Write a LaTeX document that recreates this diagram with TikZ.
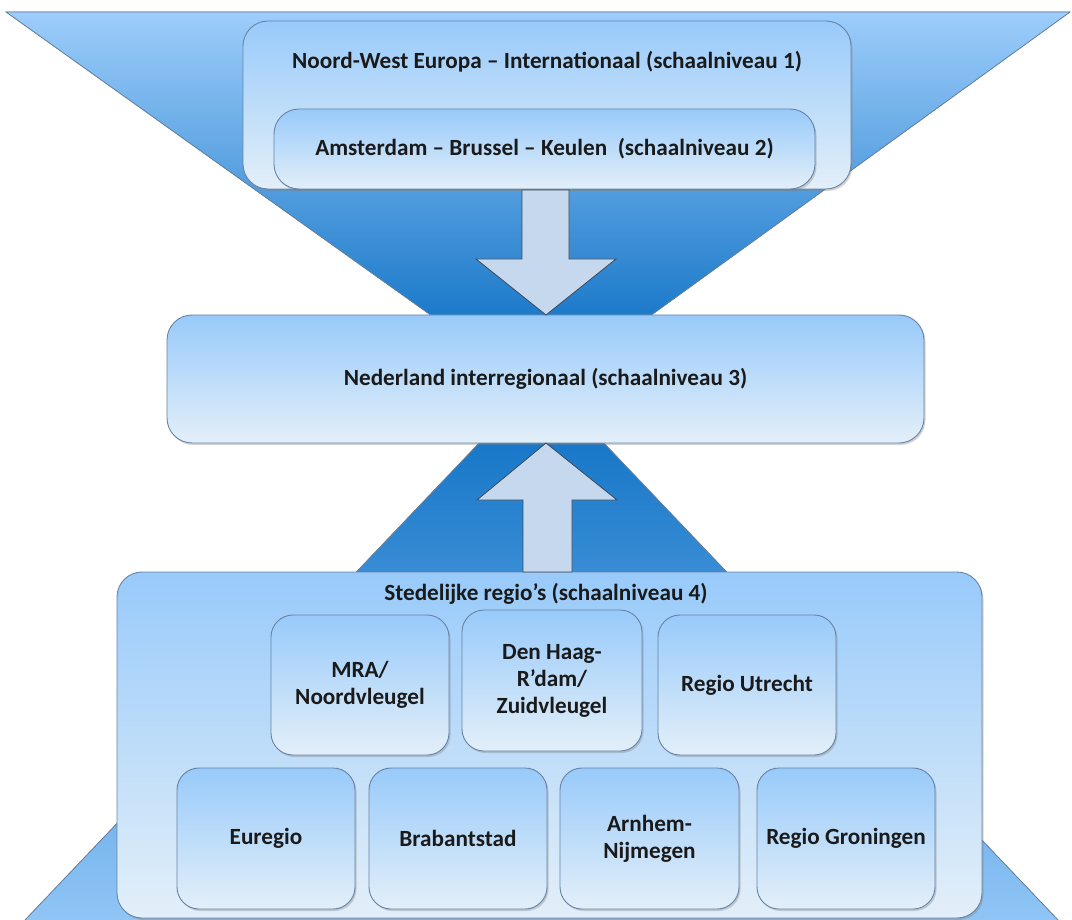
\documentclass[tikz,border=0pt]{standalone}
\usepackage{fontspec}
\setmainfont{Carlito}
\usetikzlibrary{shadows}
\definecolor{boxtop}{RGB}{152,202,250}
\definecolor{boxbot}{RGB}{227,239,249}
\definecolor{boxline}{RGB}{104,132,165}
\definecolor{tritop}{RGB}{157,205,251}
\definecolor{tribot}{RGB}{26,121,201}
\definecolor{pyrtop}{RGB}{23,119,200}
\definecolor{pyrbot}{RGB}{144,197,246}
\definecolor{arrowfill}{RGB}{197,216,238}
\definecolor{arrowline}{RGB}{60,72,88}
\definecolor{edgeline}{RGB}{105,128,155}
\definecolor{txt}{RGB}{26,26,26}
\begin{document}
\begin{tikzpicture}[x=1pt,y=-1pt,
  lbl/.style={font=\bfseries\fontsize{23.2}{27}\selectfont, text=txt, align=center},
  bluebox/.style={draw=boxline, line width=0.9pt, top color=boxtop, bottom color=boxbot,
    rounded corners=#1, inner sep=0pt, lbl,
    drop shadow={shadow xshift=1.5pt, shadow yshift=-2pt, opacity=0.35}},
  smallbox/.style={bluebox=22pt, minimum width=178pt, minimum height=140pt},
  blockarrow/.style={draw=arrowline, line width=0.8pt, fill=arrowfill, line join=miter},
  edge/.style={draw=edgeline, line width=0.8pt}]
\useasboundingbox (0,0) rectangle (1072,920);

% upper inverted triangle (truncated behind the middle box)
\fill[top color=tritop, bottom color=tribot] (6,12) -- (1070,12) -- (644.5,320) -- (437.6,320) -- cycle;
\draw[edge] (437.6,320) -- (6,12) -- (1070,12) -- (644.5,320);

% lower pyramid
\fill[top color=pyrtop, bottom color=pyrbot] (482,440) -- (601,440) -- (1058,920) -- (25,920) -- cycle;
\draw[edge] (25,920) -- (482,440);
\draw[edge] (601,440) -- (1058,920);

% scale level 1 and 2
\node[bluebox=25pt, minimum width=608pt, minimum height=168pt] (nwe) at (547,105) {};
\node[lbl] (nwet) at (547,62) {Noord-West Europa – Internationaal (schaalniveau 1)};
\node[bluebox=25pt, minimum width=541pt, minimum height=80pt] (abk) at (544.5,149)
  {Amsterdam – Brussel – Keulen\ \ (schaalniveau 2)};

% scale level 3
\node[bluebox=25pt, minimum width=757pt, minimum height=128pt] (nl) at (545.5,379)
  {Nederland interregionaal (schaalniveau 3)};

% scale level 4
\node[bluebox=25pt, minimum width=865pt, minimum height=346pt] (sr) at (549.5,745) {};
\node[lbl] (srt) at (546,594) {Stedelijke regio’s (schaalniveau 4)};

\node[smallbox] (mra) at (360,685) {MRA/\\Noordvleugel};
\node[smallbox, minimum width=180pt, minimum height=141pt] (dh) at (552,680.5) {Den Haag-\\R’dam/\\Zuidvleugel};
\node[smallbox] (utr) at (747,685) {Regio Utrecht};

\node[smallbox, minimum height=141pt] (eur) at (266,838.5) {Euregio};
\node[smallbox, minimum height=141pt] (bra) at (458,838.5) {Brabantstad};
\node[smallbox, minimum width=179pt, minimum height=141pt] (arn) at (649.5,838.5) {Arnhem-\\Nijmegen};
\node[smallbox, minimum height=141pt] (gro) at (846,838.5) {Regio Groningen};

% block arrows
\draw[blockarrow] (522,190) -- (569,190) -- (569,259) -- (616,259) -- (546,315)
  -- (476,259) -- (522,259) -- cycle;
\draw[blockarrow] (546,443) -- (617,500) -- (572,500) -- (572,572) -- (523,572)
  -- (523,500) -- (477,500) -- cycle;
\end{tikzpicture}
\end{document}
